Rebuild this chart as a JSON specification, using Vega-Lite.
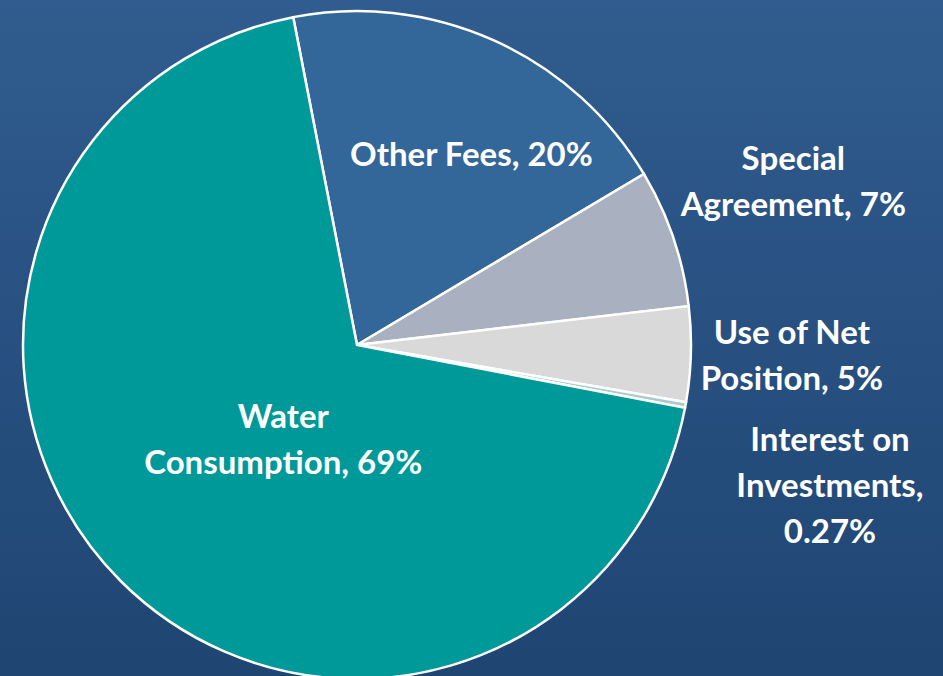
{
  "$schema": "https://vega.github.io/schema/vega-lite/v6.json",
  "autosize": {"type": "none"},
  "width": 943,
  "height": 676,
  "padding": 0,
  "background": "#284f80",
  "config": {"view": {"stroke": null}},
  "data": {
    "values": [
      {"order": 1, "category": "Other Fees", "value": 19.5, "label": "Other Fees, 20%"},
      {"order": 2, "category": "Special Agreement", "value": 6.7, "label": "Special\nAgreement, 7%"},
      {"order": 3, "category": "Use of Net Position", "value": 4.6, "label": "Use of Net\nPosition, 5%"},
      {"order": 4, "category": "Interest on Investments", "value": 0.27, "label": "Interest on\nInvestments,\n0.27%"},
      {"order": 5, "category": "Water Consumption", "value": 68.93, "label": "Water\nConsumption, 69%"}
    ]
  },
  "layer": [
    {
      "mark": {
        "type": "rect",
        "x": 0, "y": 0, "x2": {"expr": "width"}, "y2": {"expr": "height"},
        "color": {"gradient": "linear", "x1": 0, "y1": 0, "x2": 0, "y2": 1,
          "stops": [{"offset": 0, "color": "#305c8f"}, {"offset": 1, "color": "#1f4572"}]}
      },
      "encoding": {}
    },
    {
      "mark": {"type": "arc", "x": 357, "y": 345, "outerRadius": 334, "stroke": "white", "strokeWidth": 2.5},
      "encoding": {
        "theta": {"field": "value", "type": "quantitative", "stack": true, "scale": {"range": [-0.192, 6.091]}},
        "order": {"field": "order", "type": "quantitative"},
        "color": {
          "field": "category", "type": "nominal", "legend": null,
          "scale": {
            "domain": ["Other Fees", "Special Agreement", "Use of Net Position", "Interest on Investments", "Water Consumption"],
            "range": ["#336699", "#a9b0c0", "#d9d9d9", "#a8cccc", "#009999"]
          }
        }
      }
    },
    {
      "mark": {"type": "text", "x": 357, "y": 345, "radius": 219, "dx": 25, "dy": 11, "font": "Lato", "fontWeight": "bold", "fontSize": 33, "color": "white", "lineHeight": 46, "lineBreak": "\n", "align": "center", "baseline": "middle"},
      "encoding": {
        "theta": {"field": "value", "type": "quantitative", "stack": true, "scale": {"range": [-0.192, 6.091]}},
        "order": {"field": "order", "type": "quantitative"},
        "text": {"condition": {"test": "datum.category === 'Other Fees'", "field": "label"}, "value": ""}
      }
    },
    {
      "mark": {"type": "text", "x": 357, "y": 345, "radius": 466, "dx": -5, "dy": -35, "font": "Lato", "fontWeight": "bold", "fontSize": 33, "color": "white", "lineHeight": 46, "lineBreak": "\n", "align": "center", "baseline": "middle"},
      "encoding": {
        "theta": {"field": "value", "type": "quantitative", "stack": true, "scale": {"range": [-0.192, 6.091]}},
        "order": {"field": "order", "type": "quantitative"},
        "text": {"condition": {"test": "datum.category === 'Special Agreement'", "field": "label"}, "value": ""}
      }
    },
    {
      "mark": {"type": "text", "x": 357, "y": 345, "radius": 435, "dx": 0, "dy": -23, "font": "Lato", "fontWeight": "bold", "fontSize": 33, "color": "white", "lineHeight": 46, "lineBreak": "\n", "align": "center", "baseline": "middle"},
      "encoding": {
        "theta": {"field": "value", "type": "quantitative", "stack": true, "scale": {"range": [-0.192, 6.091]}},
        "order": {"field": "order", "type": "quantitative"},
        "text": {"condition": {"test": "datum.category === 'Use of Net Position'", "field": "label"}, "value": ""}
      }
    },
    {
      "mark": {"type": "text", "x": 357, "y": 345, "radius": 492, "dx": -11, "dy": 8, "font": "Lato", "fontWeight": "bold", "fontSize": 33, "color": "white", "lineHeight": 46, "lineBreak": "\n", "align": "center", "baseline": "middle"},
      "encoding": {
        "theta": {"field": "value", "type": "quantitative", "stack": true, "scale": {"range": [-0.192, 6.091]}},
        "order": {"field": "order", "type": "quantitative"},
        "text": {"condition": {"test": "datum.category === 'Interest on Investments'", "field": "label"}, "value": ""}
      }
    },
    {
      "mark": {"type": "text", "x": 357, "y": 345, "radius": 120, "dx": 11, "dy": -12, "font": "Lato", "fontWeight": "bold", "fontSize": 33, "color": "white", "lineHeight": 46, "lineBreak": "\n", "align": "center", "baseline": "middle"},
      "encoding": {
        "theta": {"field": "value", "type": "quantitative", "stack": true, "scale": {"range": [-0.192, 6.091]}},
        "order": {"field": "order", "type": "quantitative"},
        "text": {"condition": {"test": "datum.category === 'Water Consumption'", "field": "label"}, "value": ""}
      }
    }
  ]
}
